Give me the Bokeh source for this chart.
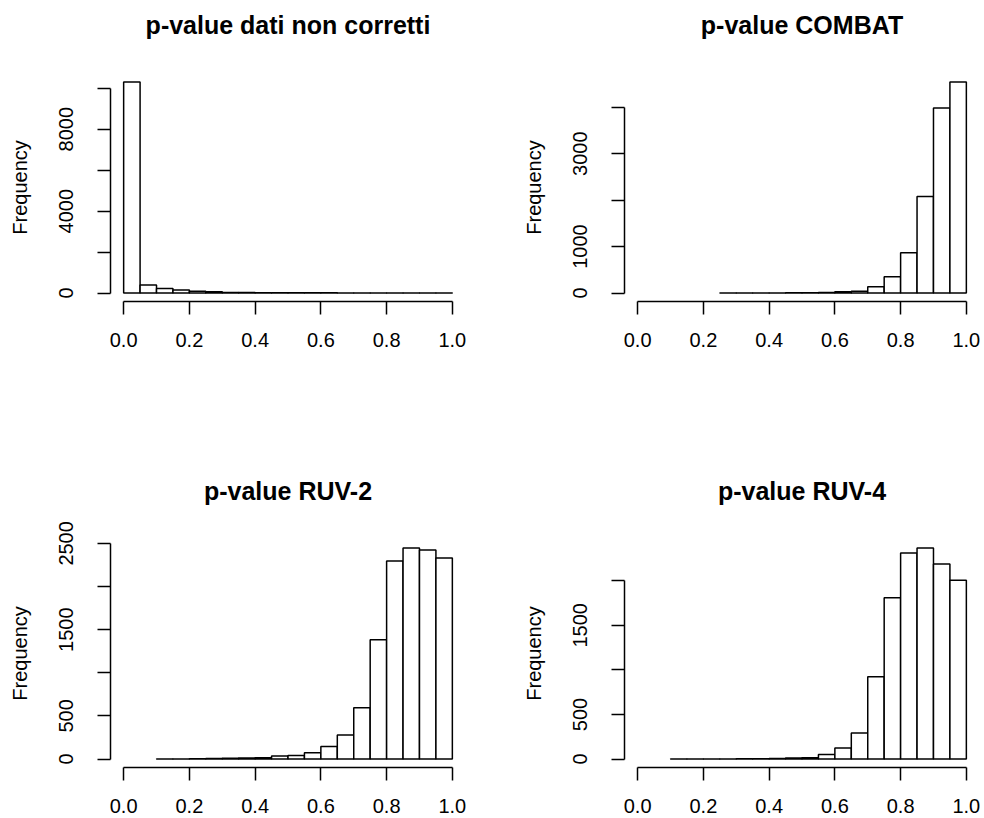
from bokeh.plotting import figure
from bokeh.models import Range1d, FixedTicker, Title
from bokeh.layouts import column, row
from bokeh.embed import file_html
from bokeh.resources import INLINE

BIN = 0.05

titles = ["p-value dati non corretti", "p-value COMBAT", "p-value RUV-2", "p-value RUV-4"]

# first break of each histogram (R hist breaks step 0.05 up to 1.0)
starts = [0.0, 0.25, 0.1, 0.1]

counts_raw = [10307, 390, 225, 146, 85, 60, 30, 22, 18, 15, 12, 10, 9, 8, 6, 5, 4, 3, 2, 2]
counts_combat = [1, 1, 2, 3, 5, 8, 14, 30, 38, 135, 350, 867, 2078, 3985, 4544]
counts_ruv2 = [1, 2, 3, 5, 8, 12, 15, 35, 40, 73, 146, 278, 595, 1383, 2296, 2447, 2423, 2331]
counts_ruv4 = [1, 1, 2, 2, 3, 4, 6, 12, 15, 52, 123, 292, 924, 1810, 2312, 2368, 2188, 2005]
all_counts = [counts_raw, counts_combat, counts_ruv2, counts_ruv4]

x_ticks = [0.0, 0.2, 0.4, 0.6, 0.8, 1.0]
x_labels = ["0.0", "0.2", "0.4", "0.6", "0.8", "1.0"]

y_ticks = [
    [0, 2000, 4000, 6000, 8000, 10000],
    [0, 1000, 2000, 3000, 4000],
    [0, 500, 1000, 1500, 2000, 2500],
    [0, 500, 1000, 1500, 2000],
]
y_labels = [
    ["0", "", "4000", "", "8000", ""],
    ["0", "1000", "", "3000", ""],
    ["0", "500", "", "1500", "", "2500"],
    ["0", "500", "", "1500", ""],
]

FONT = "Liberation Sans"
W, H = 492, 409
borders = [
    dict(min_border_left=110, min_border_right=27, min_border_top=73, min_border_bottom=108),
    dict(min_border_left=132, min_border_right=5, min_border_top=73, min_border_bottom=108),
    dict(min_border_left=110, min_border_right=27, min_border_top=130, min_border_bottom=51),
    dict(min_border_left=132, min_border_right=5, min_border_top=130, min_border_bottom=51),
]

figs = []
for i in range(4):
    counts = all_counts[i]
    n = len(counts)
    lefts = [round(starts[i] + k * BIN, 4) for k in range(n)]
    rights = [round(starts[i] + (k + 1) * BIN, 4) for k in range(n)]
    ymax = max(counts)
    p = figure(width=W, height=H, output_backend="svg", toolbar_location=None,
               x_range=Range1d(-0.04, 1.04), y_range=Range1d(-0.04 * ymax, 1.04 * ymax),
               title_location=None, **borders[i])
    p.outline_line_color = None
    p.grid.visible = False
    p.background_fill_color = "white"
    p.border_fill_color = "white"

    p.quad(left=lefts, right=rights, bottom=0, top=counts,
           fill_color="white", line_color="black", line_width=1.5)

    # blank spacer between the plot frame and the title
    p.add_layout(Title(text=" ", text_font_size="10px", standoff=22), "above")
    p.add_layout(Title(text=titles[i], align="center", text_font=FONT,
                       text_font_size="25px", text_font_style="bold",
                       text_color="black", standoff=0), "above")

    xa = p.xaxis[0]
    xa.ticker = FixedTicker(ticks=x_ticks)
    xa.major_label_overrides = {t: l for t, l in zip(x_ticks, x_labels)}
    xa.bounds = (x_ticks[0], x_ticks[-1])
    ya = p.yaxis[0]
    yt = y_ticks[i]
    ya.ticker = FixedTicker(ticks=yt)
    ya.major_label_overrides = {t: l for t, l in zip(yt, y_labels[i])}
    ya.bounds = (yt[0], yt[-1])
    ya.major_label_orientation = "vertical"
    ya.axis_label = "Frequency"
    ya.axis_label_text_font = FONT
    ya.axis_label_text_font_size = "20px"
    ya.axis_label_text_font_style = "normal"
    ya.axis_label_text_color = "black"
    ya.axis_label_standoff = 26
    for ax in (xa, ya):
        ax.axis_line_color = "black"
        ax.axis_line_width = 1.5
        ax.major_tick_line_color = "black"
        ax.major_tick_line_width = 1.5
        ax.major_tick_out = 13
        ax.major_tick_in = 0
        ax.minor_tick_line_color = None
        ax.major_label_text_font = FONT
        ax.major_label_text_font_size = "20px"
        ax.major_label_text_color = "black"
    xa.major_label_standoff = 18
    ya.major_label_standoff = 24
    figs.append(p)

layout = column(row(figs[0], figs[1]), row(figs[2], figs[3]))
open("out.html", "w").write(file_html(layout, INLINE))
